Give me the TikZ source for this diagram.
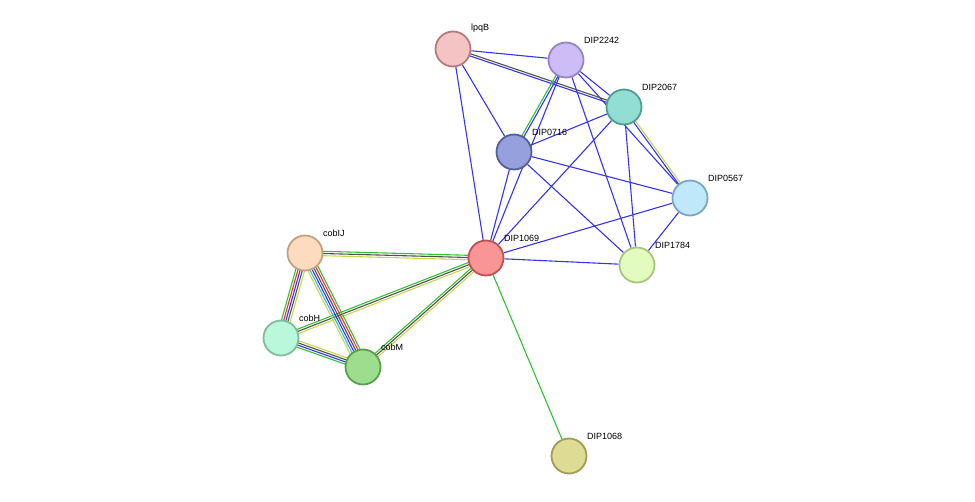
\documentclass[tikz,border=0pt]{standalone}
\usepackage{fontspec}
\setmainfont{Liberation Sans}
\usetikzlibrary{calc,backgrounds}
\definecolor{eblue}{HTML}{3434F0}
\definecolor{egreen}{HTML}{33C133}
\definecolor{eyel}{HTML}{C4D94A}
\definecolor{egrey}{HTML}{505050}
\definecolor{ered}{HTML}{F03030}
\definecolor{ecyan}{HTML}{33BBDD}
\tikzset{
  prot/.style n args={3}{draw=b#1, fill=f#1, circle, line width=1.8pt, minimum size=35pt, inner sep=0pt,
    label={[anchor=south west, inner sep=0pt, xshift=5pt, yshift=3pt, font=\fontsize{9}{10}\selectfont]north east:#3}},
  link/.style={line width=1.1pt}
}
\newcommand{\protcol}[3]{\definecolor{f#1}{HTML}{#2}\definecolor{b#1}{HTML}{#3}}
\protcol{lpqB}{F4C4C4}{B57A7A}
\protcol{d2242}{CDBDF6}{9983C1}
\protcol{d2067}{92DED4}{4E9D90}
\protcol{d0716}{96A0DD}{545E97}
\protcol{d0567}{BFE8FB}{7FA4C0}
\protcol{d1069}{FA9595}{BB5353}
\protcol{d1784}{E2FCBF}{A8C47F}
\protcol{cobIJ}{FDDBBE}{C0A283}
\protcol{cobH}{BAF8DC}{7DBC9D}
\protcol{cobM}{9CDE8E}{5A9F4D}
\protcol{d1068}{DEDB95}{A09C53}
\begin{document}
\begin{tikzpicture}[x=1pt,y=-1pt]
			\useasboundingbox (0,0) rectangle (975,502);
			\node[prot={lpqB}{}{lpqB}] (lpqB) at (453, 49) {};
			\node[prot={d2242}{}{DIP2242}] (d2242) at (566, 60) {};
			\node[prot={d2067}{}{DIP2067}] (d2067) at (624, 107) {};
			\node[prot={d0716}{}{DIP0716}] (d0716) at (514, 152) {};
			\node[prot={d0567}{}{DIP0567}] (d0567) at (690, 198) {};
			\node[prot={d1069}{}{DIP1069}] (d1069) at (486, 258) {};
			\node[prot={d1784}{}{DIP1784}] (d1784) at (637, 265) {};
			\node[prot={cobIJ}{}{cobIJ}] (cobIJ) at (305, 253) {};
			\node[prot={cobH}{}{cobH}] (cobH) at (281, 338) {};
			\node[prot={cobM}{}{cobM}] (cobM) at (363, 367) {};
			\node[prot={d1068}{}{DIP1068}] (d1068) at (569, 456) {};
			
			\begin{pgfonlayer}{background}
			\def\list {lpqB/d2242, lpqB/d0716, lpqB/d1069, d2242/d2067, d2242/d1069, d2242/d1784, d2242/d0567,
			  d2067/d0716, d2067/d1069, d2067/d1784, d0716/d0567, d0716/d1069, d0716/d1784,
			  d0567/d1069, d0567/d1784, d1069/d1784}  % single blue links
			\foreach \u/\v in \list
			{	\draw[link, eblue] (\u) -- (\v);}
			\draw[link, egreen] (d1069) -- (d1068);
			
			% multi-coloured links: from/to/colours
			\def\multi {lpqB/d2067/{eblue,egrey}, d2242/d0716/{egreen,eblue}, d2067/d0567/{eblue,eyel},
			  cobIJ/d1069/{eyel,egrey,egreen}, cobH/d1069/{eyel,egrey,egreen}, cobM/d1069/{eyel,egrey,egreen},
			  cobIJ/cobH/{egreen,ered,eblue,egrey,eyel}, cobIJ/cobM/{eyel,ecyan,eblue,egrey,ered,egreen},
			  cobH/cobM/{egreen,eblue,egrey,eyel}}
			\foreach \u/\v/\cols in \multi
			{	\foreach \c [count=\i] in \cols {\xdef\n{\i}}
				\foreach \c [count=\i] in \cols
				{	\pgfmathsetmacro\o{(\i-(\n+1)/2)*2.2}
					\draw[link, \c] ($(\u)!\o pt!90:(\v)$) -- ($(\v)!\o pt!-90:(\u)$);}}
			\end{pgfonlayer}
		\end{tikzpicture}
\end{document}
